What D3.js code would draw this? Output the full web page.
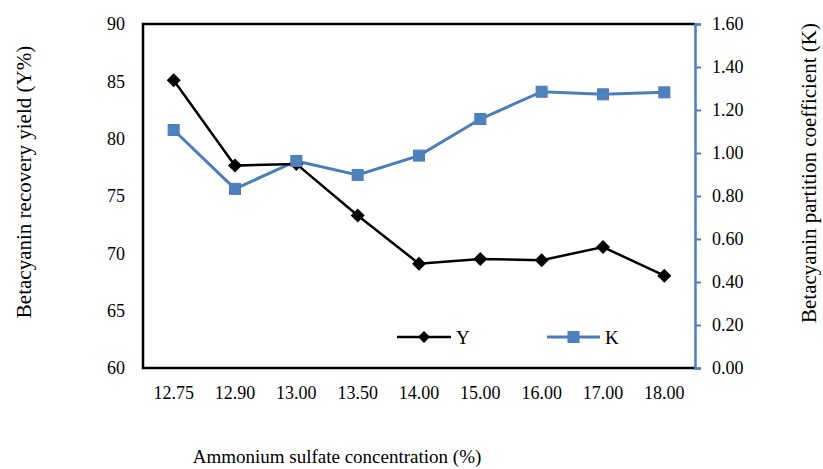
<!DOCTYPE html>
<html>
<head>
<meta charset="utf-8">
<script src="https://cdn.jsdelivr.net/npm/d3@7"></script>
<style>
  body { margin: 0; background: #fff; }
  text { font-family: "Liberation Serif", "Times New Roman", serif; fill: #000; }
</style>
</head>
<body>
<svg width="823" height="469"></svg>
<script>
var concentrations = ["12.75", "12.90", "13.00", "13.50", "14.00", "15.00", "16.00", "17.00", "18.00"];
var yieldY = [85.1, 77.65, 77.8, 73.3, 69.1, 69.5, 69.4, 70.55, 68.05];
var partitionK = [1.107, 0.833, 0.963, 0.898, 0.988, 1.158, 1.285, 1.273, 1.282];
var leftTicks = [60, 65, 70, 75, 80, 85, 90];
var rightTicks = [0, 0.2, 0.4, 0.6, 0.8, 1.0, 1.2, 1.4, 1.6];

var blue = "#4a7ebb";

var svg = d3.select("svg"),
    margin = {top: 24, right: 128, bottom: 101, left: 143},
    width = 823 - margin.left - margin.right,
    height = 469 - margin.top - margin.bottom;

var g = svg.append("g")
    .attr("transform", "translate(" + margin.left + "," + margin.top + ")");

var x = d3.scaleBand()
    .domain(concentrations)
    .range([0, width]);

var yLeft = d3.scaleLinear()
    .domain([60, 90])
    .range([height, 0]);

var yRight = d3.scaleLinear()
    .domain([0, 1.6])
    .range([height, 0]);

// frame (top, left, bottom in black)
g.append("path")
    .attr("d", "M" + width + ",0H0V" + height + "H" + width)
    .attr("fill", "none")
    .attr("stroke", "#000")
    .attr("stroke-width", 2.5);

// left axis: labels only
var leftAxis = g.append("g")
    .call(d3.axisLeft(yLeft).tickValues(leftTicks).tickSize(0).tickPadding(18).tickFormat(d3.format("d")));
leftAxis.select(".domain").remove();

// right axis in blue
var rightAxis = g.append("g")
    .attr("transform", "translate(" + width + ",0)")
    .call(d3.axisRight(yRight).tickValues(rightTicks).tickSize(6).tickPadding(11).tickFormat(d3.format(".2f")));
rightAxis.select(".domain").attr("stroke", blue).attr("stroke-width", 2.5);
rightAxis.selectAll(".tick line").attr("stroke", blue).attr("stroke-width", 2);

// bottom labels
var bottomAxis = g.append("g")
    .attr("transform", "translate(0," + height + ")")
    .call(d3.axisBottom(x).tickSize(0).tickPadding(18));
bottomAxis.select(".domain").remove();

svg.selectAll(".tick text")
    .attr("font-size", 18)
    .attr("fill", "#000");

var cx = function(i) { return x(concentrations[i]) + x.bandwidth() / 2; };

// K series
var lineK = d3.line()
    .x(function(d, i) { return cx(i); })
    .y(function(d) { return yRight(d); });

g.append("path")
    .datum(partitionK)
    .attr("d", lineK)
    .attr("fill", "none")
    .attr("stroke", blue)
    .attr("stroke-width", 3);

// Y series
var lineY = d3.line()
    .x(function(d, i) { return cx(i); })
    .y(function(d) { return yLeft(d); });

g.append("path")
    .datum(yieldY)
    .attr("d", lineY)
    .attr("fill", "none")
    .attr("stroke", "#000")
    .attr("stroke-width", 2.5);

var diamond = function(s) { return "M0," + (-s) + "L" + s + ",0L0," + s + "L" + (-s) + ",0Z"; };

g.selectAll(".dY")
    .data(yieldY)
  .enter().append("path")
    .attr("class", "dY")
    .attr("d", diamond(7))
    .attr("transform", function(d, i) { return "translate(" + cx(i) + "," + yLeft(d) + ")"; })
    .attr("fill", "#000");

g.selectAll(".sK")
    .data(partitionK)
  .enter().append("rect")
    .attr("class", "sK")
    .attr("x", function(d, i) { return cx(i) - 5.5; })
    .attr("y", function(d) { return yRight(d) - 5.5; })
    .attr("width", 11)
    .attr("height", 11)
    .attr("fill", "#4f81bd")
    .attr("stroke", blue)
    .attr("stroke-width", 1);

// legend
var legend = svg.append("g");
legend.append("line").attr("x1", 397).attr("x2", 451).attr("y1", 337).attr("y2", 337)
    .attr("stroke", "#000").attr("stroke-width", 2.5);
legend.append("path").attr("d", diamond(6)).attr("transform", "translate(424,337)").attr("fill", "#000");
legend.append("text").attr("x", 456).attr("y", 337).attr("dy", "0.35em")
    .attr("font-size", 19).text("Y");
legend.append("line").attr("x1", 547).attr("x2", 600).attr("y1", 337).attr("y2", 337)
    .attr("stroke", blue).attr("stroke-width", 3);
legend.append("rect").attr("x", 568).attr("y", 331.5).attr("width", 11).attr("height", 11)
    .attr("fill", "#4f81bd").attr("stroke", blue);
legend.append("text").attr("x", 605).attr("y", 337).attr("dy", "0.35em")
    .attr("font-size", 19).text("K");

// axis titles
svg.append("text")
    .attr("x", 337).attr("y", 463)
    .attr("text-anchor", "middle")
    .attr("font-size", 19)
    .text("Ammonium sulfate concentration (%)");

svg.append("text")
    .attr("transform", "translate(24,182) rotate(-90)")
    .attr("dy", "0.35em")
    .attr("text-anchor", "middle")
    .attr("font-size", 21)
    .text("Betacyanin recovery yield (Y%)");

svg.append("text")
    .attr("transform", "translate(809,173) rotate(-90)")
    .attr("dy", "0.35em")
    .attr("text-anchor", "middle")
    .attr("font-size", 21)
    .text("Betacyanin partition coefficient (K)");
</script>
</body>
</html>
